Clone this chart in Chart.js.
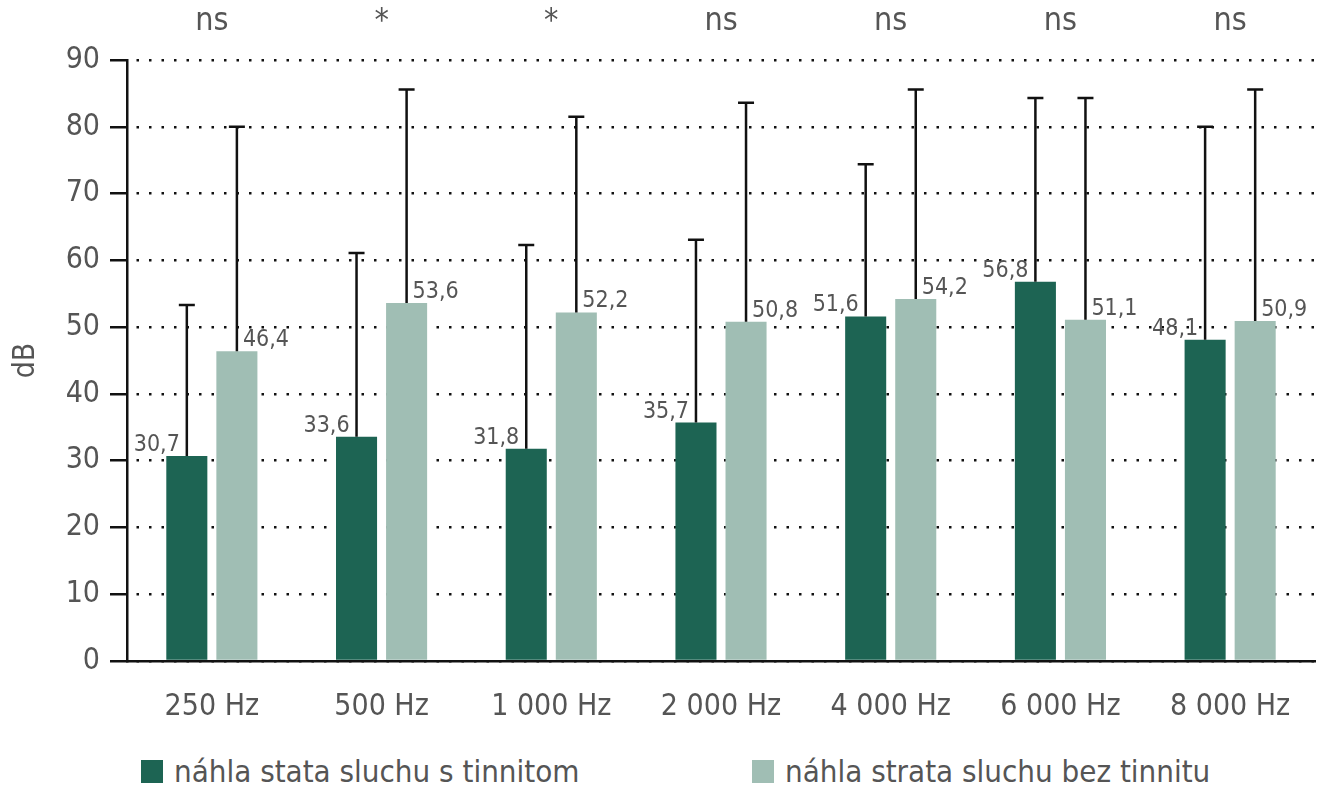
<!DOCTYPE html>
<html>
<head>
<meta charset="utf-8">
<script src="https://cdn.jsdelivr.net/npm/chart.js@4"></script>
<style>
  body { margin: 0; background: #fff; }
  #wrap { position: relative; width: 1325px; height: 800px; }
  #chart-box { position: absolute; left: 0; top: 0; width: 1325px; height: 745px; }
  #legend { position: absolute; top: 755px; left: 141px; display: flex; font-family: 'DejaVu Sans Condensed', 'Liberation Sans Narrow', sans-serif; font-size: 31px; line-height: 32px; color: #555; }
  .item { display: flex; align-items: center; }
  .item:first-child { width: 611px; }
  .swatch { width: 22px; height: 23px; margin-right: 11px; }
</style>
</head>
<body>
<div id="wrap">
  <div id="chart-box"><canvas id="hearing-chart"></canvas></div>
  <div id="legend"></div>
</div>
<script>
const frequencies = ['250 Hz', '500 Hz', '1 000 Hz', '2 000 Hz', '4 000 Hz', '6 000 Hz', '8 000 Hz'];
const significance = ['ns', '*', '*', 'ns', 'ns', 'ns', 'ns'];
const withTinnitus = [30.7, 33.6, 31.8, 35.7, 51.6, 56.8, 48.1];
const withTinnitusSD = [22.6, 27.5, 30.5, 27.4, 22.8, 27.5, 31.9];
const withoutTinnitus = [46.4, 53.6, 52.2, 50.8, 54.2, 51.1, 50.9];
const withoutTinnitusSD = [33.6, 32.0, 29.3, 32.8, 31.4, 33.2, 34.7];
const yTicks = [0, 10, 20, 30, 40, 50, 60, 70, 80, 90];

const FONT = "'DejaVu Sans Condensed', 'Liberation Sans Narrow', sans-serif";
const TEXT = '#555';

// error bars (upward only), value labels and the significance marks on top
const annotate = {
    id: 'annotate',
    afterDatasetsDraw(chart) {
        const { ctx, scales } = chart;
        ctx.save();
        chart.data.datasets.forEach((ds, di) => {
            const meta = chart.getDatasetMeta(di);
            meta.data.forEach((bar, i) => {
                const top = scales.y.getPixelForValue(ds.data[i] + ds.sd[i]);
                ctx.strokeStyle = '#111';
                ctx.lineWidth = 2.5;
                ctx.beginPath();
                ctx.moveTo(bar.x, bar.y);
                ctx.lineTo(bar.x, top);
                ctx.moveTo(bar.x - 8, top);
                ctx.lineTo(bar.x + 8, top);
                ctx.stroke();

                ctx.fillStyle = TEXT;
                ctx.font = `23px ${FONT}`;
                ctx.textBaseline = 'alphabetic';
                const txt = ds.data[i].toFixed(1).replace('.', ',');
                if (di === 0) {
                    ctx.textAlign = 'right';
                    ctx.fillText(txt, bar.x - 7, bar.y - 5);
                } else {
                    ctx.textAlign = 'left';
                    ctx.fillText(txt, bar.x + 6, bar.y - 5);
                }
            });
        });
        ctx.fillStyle = TEXT;
        ctx.font = `32px ${FONT}`;
        ctx.textAlign = 'center';
        ctx.textBaseline = 'middle';
        significance.forEach((s, i) => {
            ctx.fillText(s, scales.x.getPixelForValue(i), 22);
        });
        ctx.restore();
    }
};

const datasets = [
    { label: 'náhla stata sluchu s tinnitom', data: withTinnitus, sd: withTinnitusSD, backgroundColor: '#1d6453' },
    { label: 'náhla strata sluchu bez tinnitu', data: withoutTinnitus, sd: withoutTinnitusSD, backgroundColor: '#a0beb4' }
];

const chart = new Chart(document.getElementById('hearing-chart'), {
    type: 'bar',
    data: { labels: frequencies, datasets },
    options: {
        responsive: true,
        maintainAspectRatio: false,
        animation: false,
        categoryPercentage: 0.59,
        barPercentage: 0.82,
        layout: { padding: { top: 60, right: 10, left: 0, bottom: 0 } },
        plugins: { legend: { display: false }, tooltip: { enabled: false } },
        scales: {
            x: {
                grid: { display: false, drawTicks: false },
                border: { color: '#111', width: 2.5 },
                ticks: { color: TEXT, font: { family: FONT, size: 30 }, padding: 28 },
                afterFit: s => { s.height = 84; }
            },
            y: {
                min: 0,
                max: 90,
                afterBuildTicks: s => { s.ticks = yTicks.map(v => ({ value: v })); },
                grid: { color: '#111', lineWidth: 2.5, tickLength: 17, tickColor: '#111', tickWidth: 2.5, tickBorderDash: [] },
                border: { color: '#111', width: 2.5, dash: [2.5, 10], dashOffset: -8 },
                ticks: { color: TEXT, font: { family: FONT, size: 30 }, padding: 10 },
                title: { display: true, text: 'dB', color: TEXT, font: { family: FONT, size: 30 }, padding: { top: 8, bottom: 4 } },
                afterFit: s => { s.width = 127; }
            }
        }
    },
    plugins: [annotate]
});

const legendEl = document.getElementById('legend');
datasets.forEach(ds => {
    const item = document.createElement('div');
    item.className = 'item';
    const sw = document.createElement('span');
    sw.className = 'swatch';
    sw.style.background = ds.backgroundColor;
    const label = document.createElement('span');
    label.textContent = ds.label;
    item.appendChild(sw);
    item.appendChild(label);
    legendEl.appendChild(item);
});
</script>
</body>
</html>
